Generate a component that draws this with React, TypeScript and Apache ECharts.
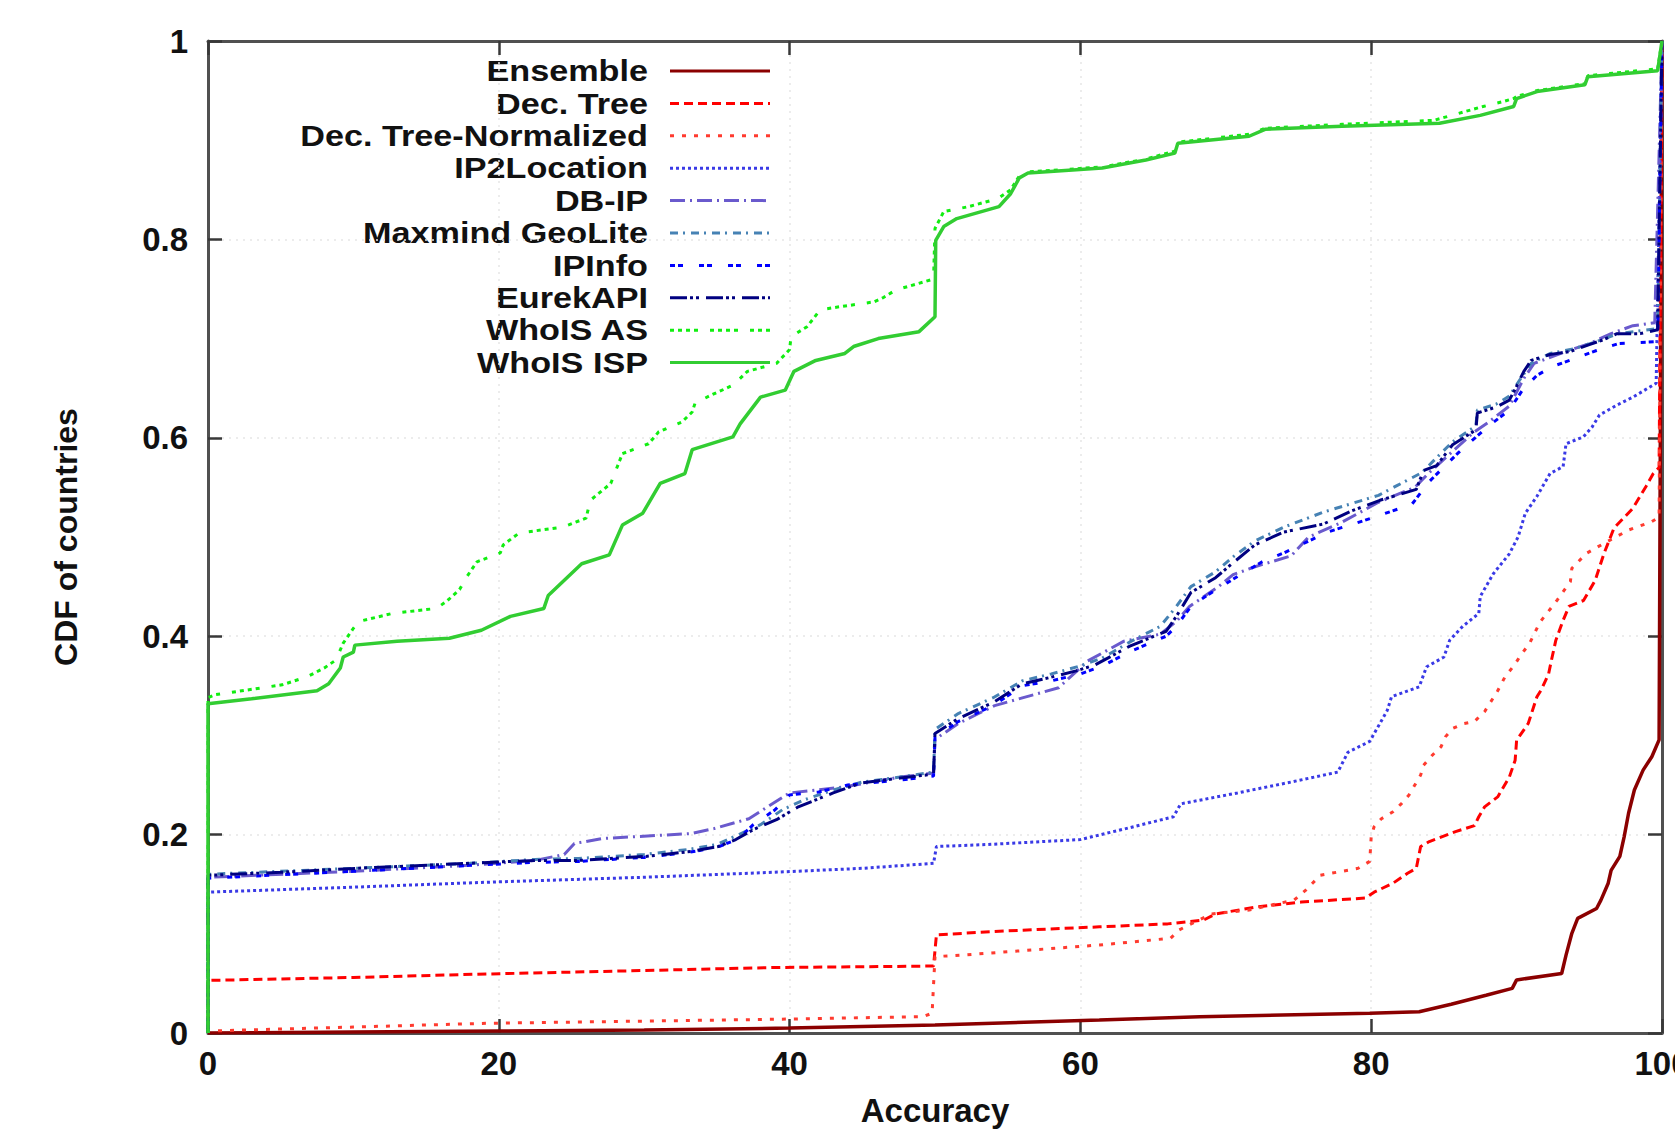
import React, { useEffect, useRef } from 'react';
import * as echarts from 'echarts';

type Pt = [number, number];

const xTicks = { min: 0, max: 100, interval: 20 };
const yTicks = { min: 0, max: 1, interval: 0.2 };
const xAxisTitle = 'Accuracy';
const yAxisTitle = 'CDF of countries';

const seriesNames = [
  'Ensemble',
  'Dec. Tree',
  'Dec. Tree-Normalized',
  'IP2Location',
  'DB-IP',
  'Maxmind GeoLite',
  'IPInfo',
  'EurekAPI',
  'WhoIS AS',
  'WhoIS ISP',
];

const ensemble: Pt[] = [
  [0, 0], [10, 0.001], [20, 0.002], [30, 0.003], [40, 0.005], [50, 0.008], [61.3, 0.013], [68.2, 0.0165],
  [79.9, 0.02], [83.3, 0.0215], [85.5, 0.029], [87.9, 0.038], [89.7, 0.045], [90, 0.0535], [93.1, 0.06],
  [93.4, 0.0785], [93.8, 0.1005], [94.2, 0.1155], [95.5, 0.1255], [95.8, 0.134], [96.3, 0.151], [96.5, 0.164],
  [97.1, 0.178], [97.4, 0.198], [97.7, 0.2215], [98.1, 0.245], [98.7, 0.265], [99.3, 0.2785], [99.8, 0.2955],
  [100, 1],
];

const decTree: Pt[] = [
  [0, 0], [0, 0.053], [10, 0.056], [19.2, 0.0595], [30, 0.063], [38.9, 0.066], [49.9, 0.0675], [50.1, 0.099],
  [55, 0.103], [61.3, 0.107], [66, 0.11], [68.5, 0.114], [69.3, 0.12], [72.1, 0.127], [75.2, 0.132],
  [79.6, 0.136], [80.2, 0.142], [81.5, 0.151], [82.5, 0.161], [83.1, 0.166], [83.4, 0.188], [84, 0.193],
  [85.8, 0.203], [87.1, 0.209], [87.4, 0.218], [87.8, 0.228], [88.7, 0.238], [89.5, 0.258], [89.9, 0.275],
  [90, 0.295], [90.8, 0.312], [91.4, 0.339], [91.7, 0.346], [92.2, 0.362], [92.4, 0.376], [92.7, 0.396],
  [93.2, 0.416], [93.6, 0.43], [94.6, 0.436], [95.4, 0.456], [96, 0.483], [96.7, 0.509], [98, 0.529],
  [98.9, 0.551], [99.4, 0.564], [99.8, 0.57], [100, 1],
];

const decTreeNorm: Pt[] = [
  [0, 0], [0, 0.002], [10, 0.006], [19.2, 0.0098], [30, 0.012], [38.9, 0.0138], [49.2, 0.0165], [49.8, 0.02],
  [50, 0.077], [52, 0.0787], [61.3, 0.0887], [66.2, 0.0955], [66.8, 0.104], [69, 0.12], [71.6, 0.124],
  [74.7, 0.134], [75.5, 0.144], [76.5, 0.159], [79.1, 0.166], [79.9, 0.173], [80, 0.198], [80.2, 0.208],
  [80.7, 0.216], [81.5, 0.223], [82.1, 0.2315], [82.6, 0.24], [83, 0.25], [83.4, 0.26], [83.6, 0.27],
  [84.2, 0.28], [84.8, 0.2885], [85.1, 0.2985], [85.6, 0.307], [86.4, 0.312], [87.1, 0.314], [87.8, 0.324],
  [88.7, 0.345], [89.2, 0.359], [89.9, 0.372], [90.2, 0.379], [90.9, 0.393], [91.6, 0.414], [92.8, 0.4365],
  [93.7, 0.455], [93.8, 0.4685], [94.8, 0.4835], [96, 0.4935], [97.7, 0.507], [99.3, 0.5155], [99.8, 0.52],
  [100, 1],
];

const ip2Location: Pt[] = [
  [0, 0], [0, 0.142], [10, 0.147], [19.2, 0.152], [30, 0.157], [38.9, 0.162], [45, 0.166], [49.9, 0.171],
  [50.1, 0.188], [53.6, 0.19], [60, 0.195], [63.4, 0.207], [66.4, 0.218], [66.9, 0.231], [70.8, 0.242],
  [74.5, 0.253], [77.7, 0.263], [78.4, 0.283], [79.9, 0.294], [81.1, 0.325], [81.4, 0.339], [83.3, 0.349],
  [83.8, 0.369], [85, 0.379], [85.4, 0.396], [86.3, 0.41], [87.4, 0.423], [87.5, 0.44], [88.4, 0.463],
  [89.5, 0.483], [90.1, 0.5], [90.6, 0.524], [91.4, 0.541], [92.3, 0.564], [93.2, 0.571], [93.4, 0.594],
  [94.6, 0.601], [95.2, 0.611], [95.7, 0.623], [96.9, 0.633], [98, 0.641], [99.6, 0.655], [100, 1],
];

const dbIp: Pt[] = [
  [0, 0], [0, 0.157], [10, 0.163], [17.9, 0.169], [22.5, 0.174], [24.5, 0.18], [25.2, 0.191], [27.1, 0.196],
  [33.2, 0.201], [34.8, 0.206], [37.2, 0.216], [40, 0.242], [43.7, 0.248], [47.6, 0.258], [49.9, 0.262],
  [50, 0.296], [51.6, 0.312], [54.1, 0.33], [56.8, 0.341], [58.5, 0.348], [60.5, 0.375], [63, 0.395],
  [65.5, 0.402], [66.6, 0.415], [67.5, 0.43], [69.5, 0.45], [70.5, 0.462], [72, 0.47], [74.5, 0.481],
  [75.7, 0.5], [78, 0.515], [80.5, 0.535], [83, 0.55], [84, 0.565], [85.5, 0.585], [87, 0.605], [88, 0.615],
  [89.5, 0.632], [90.5, 0.66], [91.2, 0.675], [93, 0.685], [95, 0.695], [96.5, 0.705], [98, 0.713],
  [99.5, 0.716], [100, 1],
];

const maxmind: Pt[] = [
  [0, 0], [0, 0.16], [10, 0.166], [18, 0.171], [22.5, 0.175], [25.5, 0.176], [30, 0.18], [33, 0.185],
  [35, 0.19], [36.5, 0.2], [38, 0.21], [39.5, 0.225], [41, 0.235], [43, 0.245], [45, 0.253], [47.6, 0.258],
  [49.9, 0.263], [50, 0.306], [51.6, 0.322], [54, 0.338], [56, 0.355], [58, 0.362], [60, 0.37],
  [61.5, 0.378], [63.5, 0.395], [65.5, 0.41], [66.6, 0.43], [67.6, 0.45], [69.3, 0.465], [70.5, 0.48],
  [72, 0.496], [74, 0.51], [76.7, 0.525], [78.5, 0.533], [80.5, 0.542], [81.8, 0.552], [83.5, 0.565],
  [84.3, 0.577], [85.6, 0.596], [87.2, 0.612], [87.3, 0.628], [88.6, 0.634], [89.5, 0.642], [90.2, 0.658],
  [91, 0.675], [92.3, 0.685], [94, 0.69], [95.5, 0.697], [97, 0.705], [99.7, 0.71], [100, 1],
];

const ipInfo: Pt[] = [
  [0, 0], [0, 0.156], [10, 0.163], [18, 0.169], [22.5, 0.172], [25.5, 0.173], [30, 0.177], [33, 0.182],
  [35, 0.187], [36.5, 0.196], [37.5, 0.21], [39, 0.225], [40, 0.24], [42, 0.243], [44, 0.25], [47.6, 0.255],
  [49.9, 0.259], [50, 0.298], [51.6, 0.314], [54, 0.33], [56, 0.35], [58, 0.355], [60, 0.362], [61.5, 0.37],
  [63.5, 0.385], [65.9, 0.4], [66.6, 0.41], [67.6, 0.43], [68.8, 0.442], [71, 0.462], [72.5, 0.475],
  [74, 0.484], [77, 0.505], [79.4, 0.516], [82.8, 0.533], [84, 0.556], [86, 0.585], [88, 0.611],
  [89.5, 0.628], [90.4, 0.648], [91.4, 0.663], [92.5, 0.672], [94, 0.68], [95.5, 0.688], [97, 0.695],
  [99.7, 0.697], [100, 1],
];

const eurekApi: Pt[] = [
  [0, 0], [0, 0.159], [5, 0.162], [10.2, 0.166], [17.9, 0.171], [22.5, 0.174], [25.5, 0.174], [30.1, 0.178],
  [33.2, 0.183], [35.1, 0.188], [36.3, 0.195], [37.5, 0.205], [39.1, 0.215], [40.6, 0.228], [43, 0.242],
  [44.9, 0.252], [47.6, 0.257], [49.9, 0.261], [50, 0.302], [51.6, 0.317], [54.1, 0.334], [56, 0.352],
  [57.8, 0.358], [59.7, 0.365], [61, 0.371], [63.4, 0.39], [65.9, 0.405], [66.6, 0.42], [67.6, 0.444],
  [69.3, 0.459], [70.5, 0.474], [72, 0.492], [74, 0.505], [76.7, 0.513], [78.6, 0.526], [80.6, 0.537],
  [83.1, 0.548], [83.6, 0.567], [84.5, 0.572], [85.6, 0.593], [87.2, 0.608], [87.3, 0.625], [88.6, 0.631],
  [89.5, 0.638], [90, 0.652], [90.5, 0.667], [91, 0.678], [92.3, 0.684], [93.7, 0.687], [95, 0.694],
  [96, 0.699], [96.9, 0.705], [98.5, 0.705], [99.7, 0.709], [100, 1],
];

const whoisAs: Pt[] = [
  [0, 0], [0, 0.338], [0.5, 0.341], [5.1, 0.351], [6.8, 0.359], [8, 0.368], [8.8, 0.376], [9.3, 0.393],
  [10, 0.408], [10.4, 0.415], [12.7, 0.423], [15.7, 0.428], [16.4, 0.435], [17.3, 0.447], [17.8, 0.46],
  [18.5, 0.475], [20.1, 0.484], [20.3, 0.492], [21.4, 0.504], [24.4, 0.51], [26, 0.519], [26.3, 0.537],
  [27.7, 0.554], [28.1, 0.569], [28.5, 0.584], [30.3, 0.594], [31, 0.606], [32.6, 0.616], [33.3, 0.626],
  [33.5, 0.635], [34.6, 0.643], [36.1, 0.653], [37.1, 0.667], [39.1, 0.675], [40, 0.689], [40.1, 0.702],
  [41.2, 0.712], [42.1, 0.729], [43.4, 0.732], [45.8, 0.737], [46.4, 0.741], [47.3, 0.749], [49.2, 0.757],
  [49.9, 0.76], [50, 0.811], [50.6, 0.828], [52.3, 0.833], [54.3, 0.841], [55.2, 0.85], [55.8, 0.864],
  [56.4, 0.868], [61.5, 0.873], [64.5, 0.881], [66.5, 0.889], [66.7, 0.898], [71.6, 0.906], [72.7, 0.912],
  [78, 0.916], [84.3, 0.92], [87.7, 0.934], [89.1, 0.939], [89.8, 0.942], [90, 0.944], [91.4, 0.95],
  [94.7, 0.957], [94.9, 0.965], [99.7, 0.972], [100, 1],
];

const whoisIsp: Pt[] = [
  [0, 0], [0, 0.332], [3, 0.337], [7.5, 0.345], [8.3, 0.352], [9.1, 0.368], [9.3, 0.379], [10, 0.384],
  [10.1, 0.391], [13, 0.395], [16.6, 0.398], [18.8, 0.406], [20.8, 0.42], [23.1, 0.428], [23.4, 0.441],
  [25.7, 0.473], [27.6, 0.482], [28.5, 0.512], [29.9, 0.524], [31.1, 0.554], [32.8, 0.564], [33.3, 0.588],
  [36.1, 0.601], [36.6, 0.614], [38, 0.641], [39.7, 0.648], [40.3, 0.667], [41.8, 0.678], [43.8, 0.685],
  [44.4, 0.692], [46.1, 0.7], [48.9, 0.707], [50, 0.722], [50.05, 0.799], [50.6, 0.813], [51.5, 0.821],
  [54.4, 0.833], [55.2, 0.846], [55.8, 0.862], [56.4, 0.867], [61.5, 0.872], [64.5, 0.88], [66.5, 0.887],
  [66.7, 0.897], [71.6, 0.904], [72.7, 0.911], [78, 0.914], [84.7, 0.917], [87.5, 0.925], [89.8, 0.934],
  [90, 0.942], [91.4, 0.949], [94.7, 0.956], [94.9, 0.964], [99.7, 0.97], [100, 1],
];

const seriesData: Pt[][] = [
  ensemble, decTree, decTreeNorm, ip2Location, dbIp, maxmind, ipInfo, eurekApi, whoisAs, whoisIsp,
];

const seriesStyles: { color: string; width: number; dash: number[] | null }[] = [
  { color: '#8b0000', width: 3.5, dash: null },
  { color: '#ff0000', width: 3, dash: [9, 5] },
  { color: '#ff3b2f', width: 3, dash: [4, 8] },
  { color: '#3a3ae6', width: 3, dash: [3, 3] },
  { color: '#6a5acd', width: 3, dash: [15, 5, 2, 5] },
  { color: '#4682b4', width: 3, dash: [8, 5, 2, 6] },
  { color: '#0000ff', width: 3, dash: [5, 3, 5, 16] },
  { color: '#000080', width: 3, dash: [17, 3, 3, 3, 3, 7] },
  { color: '#11ee11', width: 3, dash: [4, 4, 4, 4, 4, 4, 4, 12] },
  { color: '#32cd32', width: 3.5, dash: null },
];

const FONT = '"Liberation Sans", Arial, Helvetica, sans-serif';

export default function App() {
  const ref = useRef<HTMLDivElement>(null);

  useEffect(() => {
    if (!ref.current) return;
    const chart = echarts.init(ref.current, null, { renderer: 'svg' });

    const axisLine = { show: true, onZero: false, lineStyle: { color: '#505050', width: 3 } };
    const axisTick = { show: true, inside: true, length: 14, lineStyle: { color: '#383838', width: 2.5 } };
    const splitLine = { show: true, lineStyle: { color: '#e6e6e6', type: [2, 5], width: 1.5 } };
    const labelStyle = { fontSize: 33, fontWeight: 'bold', color: '#111', fontFamily: FONT };

    // legend drawn as graphic: right-aligned names, sample line to the right
    const legendTop = 71;
    const legendStep = 32.4;
    const legendGraphics: any[] = [];
    seriesNames.forEach((name, i) => {
      const y = legendTop + i * legendStep;
      legendGraphics.push({
        type: 'text',
        x: 648,
        y,
        scaleX: 1.14,
        silent: true,
        style: {
          text: name,
          fontSize: 30,
          fontWeight: 'bold',
          fontFamily: FONT,
          fill: '#111',
          align: 'right',
          verticalAlign: 'middle',
        },
      });
      legendGraphics.push({
        type: 'line',
        silent: true,
        shape: { x1: 670, y1: y, x2: 770, y2: y },
        style: {
          stroke: seriesStyles[i].color,
          lineWidth: 3,
          lineDash: seriesStyles[i].dash || undefined,
        },
      });
    });

    const option: any = {
      animation: false,
      backgroundColor: '#ffffff',
      grid: { left: 208, right: 13, top: 41, bottom: 97, containLabel: false, outerBoundsMode: 'none' },
      xAxis: [
        {
          type: 'value', position: 'bottom', ...xTicks,
          axisLine, axisTick, splitLine,
          axisLabel: { ...labelStyle, margin: 14 },
          name: xAxisTitle, nameLocation: 'middle', nameGap: 61,
          nameTextStyle: { fontSize: 33, fontWeight: 'bold', color: '#111', fontFamily: FONT },
        },
        {
          type: 'value', position: 'top', ...xTicks,
          axisLine, axisTick, splitLine: { show: false }, axisLabel: { show: false },
        },
      ],
      yAxis: [
        {
          type: 'value', position: 'left', ...yTicks,
          axisLine, axisTick, splitLine,
          axisLabel: { ...labelStyle, margin: 20 },
          name: yAxisTitle, nameLocation: 'middle', nameGap: 126, nameRotate: 90,
          nameTextStyle: { fontSize: 32, fontWeight: 'bold', color: '#111', fontFamily: FONT },
        },
        {
          type: 'value', position: 'right', ...yTicks,
          axisLine, axisTick, splitLine: { show: false }, axisLabel: { show: false },
        },
      ],
      graphic: legendGraphics,
      series: seriesNames.map((name, i) => ({
        name,
        type: 'line',
        xAxisIndex: 0,
        yAxisIndex: 0,
        data: seriesData[i],
        symbol: 'none',
        showSymbol: false,
        clip: true,
        lineStyle: {
          color: seriesStyles[i].color,
          width: seriesStyles[i].width,
          type: seriesStyles[i].dash || 'solid',
        },
        itemStyle: { color: seriesStyles[i].color },
      })),
    };

    chart.setOption(option);
    return () => chart.dispose();
  }, []);

  return (
    <div
      ref={ref}
      style={{ position: 'absolute', left: 0, top: 0, width: 1675, height: 1130, background: '#fff' }}
    />
  );
}
